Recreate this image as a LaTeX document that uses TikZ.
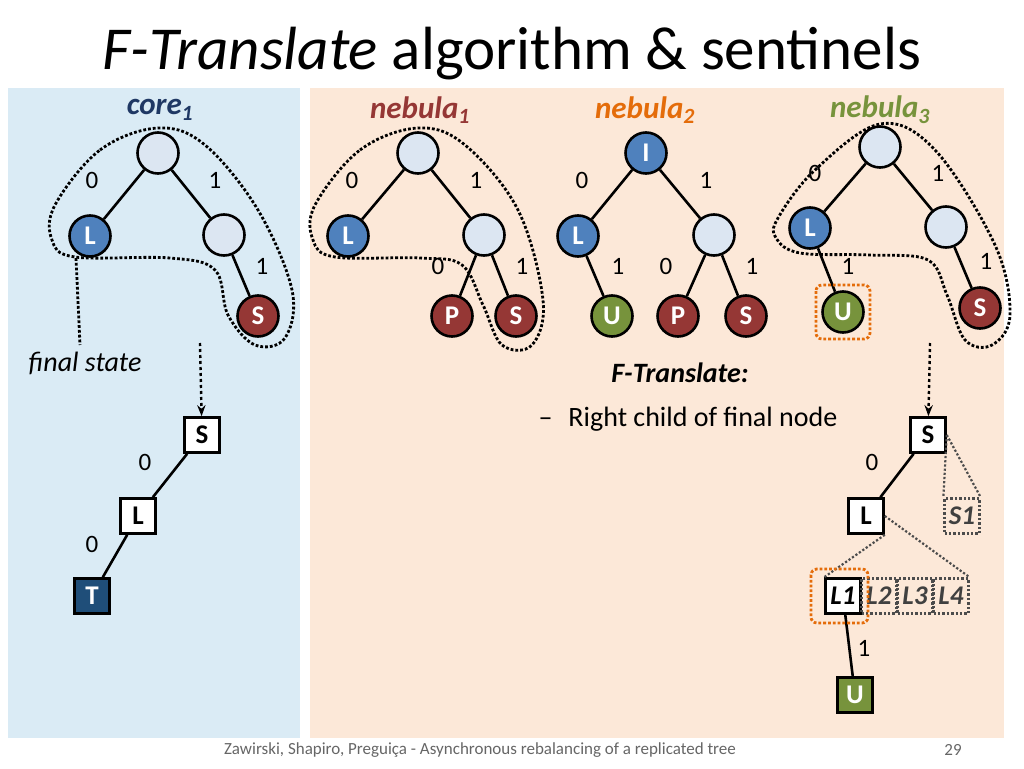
\documentclass[tikz,border=0pt]{standalone}
\usepackage{fontspec}
\setmainfont{Carlito}
\usetikzlibrary{arrows.meta,calc}
\definecolor{bpanel}{HTML}{DAEBF5}
\definecolor{opanel}{HTML}{FCE8D8}
\definecolor{nblue}{HTML}{4F81BD}
\definecolor{nred}{HTML}{953735}
\definecolor{ngreen}{HTML}{77933C}
\definecolor{nlight}{HTML}{DCE6F2}
\definecolor{tblue}{HTML}{1F3864}
\definecolor{torange}{HTML}{E46C0A}
\definecolor{tdark}{HTML}{1F4E79}
\tikzset{
 cn/.style={circle,draw=black,line width=2.6pt,minimum size=41pt,inner sep=0pt,text=white,font=\fontsize{27}{27}\selectfont\bfseries},
 cl/.style={cn,fill=nlight},
 cb/.style={cn,fill=nblue},
 cr/.style={cn,fill=nred},
 cg/.style={cn,fill=ngreen},
 sq/.style={rectangle,draw=black,line width=2.6pt,fill=white,minimum size=35pt,inner sep=0pt,font=\fontsize{27}{27}\selectfont\bfseries},
 dsq/.style={rectangle,draw=black!70,dotted,line width=2.4pt,minimum size=35pt,inner sep=0pt,text=black!75,font=\fontsize{27}{27}\selectfont\bfseries\itshape},
 ed/.style={line width=2.6pt},
 lb/.style={font=\fontsize{25}{25}\selectfont},
 loop/.style={dotted,line width=2.8pt},
 hd/.style={font=\fontsize{31}{31}\selectfont\bfseries\itshape},
}
\begin{document}
\begin{tikzpicture}[x=1pt,y=-1pt]
\useasboundingbox (0,0) rectangle (1024,768);
\fill[white] (0,0) rectangle (1024,768);
\fill[bpanel] (8,88) rectangle (300,738);
\fill[opanel] (310,88) rectangle (1004,738);
\node (title) at (512,54) {\fontsize{61}{61}\selectfont\textit{F-Translate} algorithm \& sentinels};
\node[hd,text=tblue] (h1) at (160,110) {core\textsubscript{1}};
\node[hd,text=nred] (h2) at (420,110) {nebula\textsubscript{1}};
\node[hd,text=torange] (h3) at (645,110) {nebula\textsubscript{2}};
\node[hd,text=ngreen] (h4) at (880,110) {nebula\textsubscript{3}};
% core1
\node[cl] (a0) at (158,153) {};
\node[cb] (a1) at (90,236) {L};
\node[cl] (a2) at (224,235) {};
\node[cr] (a3) at (258,316) {S};
\draw[ed] (a0)--(a1) (a0)--(a2) (a2)--(a3);
\node[lb] (la1) at (92,180) {0};
\node[lb] (la2) at (215,180) {1};
\node[lb] (la3) at (262,266) {1};
\draw[loop] plot[smooth cycle,tension=0.6] coordinates{(55,205)(100,150)(158,128)(205,145)(258,210)(292,290)(285,338)(255,345)(228,315)(215,270)(170,258)(75,257)(52,240)};
\coordinate (fs) at (80,345);
\draw[loop] (76,258)--(fs);
\node[font=\fontsize{28}{28}\selectfont\itshape] (final) at (85,363) {final state};
% nebula1
\node[cl] (b0) at (418,153) {};
\node[cb] (b1) at (348,236) {L};
\node[cl] (b2) at (484,235) {};
\node[cr] (b3) at (452,316) {P};
\node[cr] (b4) at (516,316) {S};
\draw[ed] (b0)--(b1) (b0)--(b2) (b2)--(b3) (b2)--(b4);
\node[lb] at (352,180) {0};
\node[lb] at (476,180) {1};
\node[lb] at (438,266) {0};
\node[lb] at (522,266) {1};
\draw[loop] plot[smooth cycle,tension=0.6] coordinates{(315,205)(360,150)(418,128)(465,145)(518,210)(543,300)(532,345)(502,345)(483,305)(462,265)(420,258)(335,257)(313,240)};
% nebula2
\node[cb] (c0) at (646,153) {I};
\node[cb] (c1) at (578,236) {L};
\node[cl] (c2) at (714,235) {};
\node[cg] (c3) at (612,316) {U};
\node[cr] (c4) at (678,316) {P};
\node[cr] (c5) at (746,316) {S};
\draw[ed] (c0)--(c1) (c0)--(c2) (c1)--(c3) (c2)--(c4) (c2)--(c5);
\node[lb] at (582,180) {0};
\node[lb] at (706,180) {1};
\node[lb] at (618,266) {1};
\node[lb] at (666,266) {0};
\node[lb] at (752,266) {1};
% nebula3
\node[cl] (d0) at (880,147) {};
\node[cb] (d1) at (810,228) {L};
\node[cl] (d2) at (946,227) {};
\node[cg] (d3) at (843,312) {U};
\node[cr] (d4) at (980,308) {S};
\draw[ed] (d0)--(d1) (d0)--(d2) (d1)--(d3) (d2)--(d4);
\node[lb] at (815,173) {0};
\node[lb] at (938,173) {1};
\node[lb] at (848,266) {1};
\node[lb] at (986,261) {1};
\draw[loop] plot[smooth cycle,tension=0.6] coordinates{(778,218)(815,170)(880,124)(935,150)(995,245)(1010,315)(992,345)(965,340)(947,295)(928,260)(870,255)(800,253)(776,238)};
\draw[dotted,line width=2.8pt,draw=torange,rounded corners=6pt] ($(d3)+(-27,-27)$) rectangle ($(d3)+(27,27)$);
% F-Translate text
\node[font=\fontsize{28}{28}\selectfont\bfseries\itshape] (ft) at (680,373) {F-Translate:};
\node[font=\fontsize{28}{28}\selectfont,anchor=west] (ft2) at (535,419) {–\hspace{16pt}Right child of final node};
% left final
\coordinate (la) at (200,343);
\node[sq] (s1) at (202,435) {S};
\node[sq] (s2) at (138,516) {L};
\node[sq,fill=tdark,text=white] (s3) at (92,596) {T};
\draw[dashed,line width=2.4pt,-{Stealth[length=11pt]}] (la)--(s1);
\draw[ed] (s1)--(s2) (s2)--(s3);
\node[lb] at (145,462) {0};
\node[lb] at (92,544) {0};
% right final
\coordinate (ra) at (930,343);
\node[sq] (r1) at (928,435) {S};
\node[sq] (r2) at (866,516) {L};
\node[dsq] (r3) at (962,516) {S1};
\node[sq,font=\fontsize{27}{27}\selectfont\bfseries\itshape] (q1) at (843,596) {L1};
\node[dsq] (q2) at (879,596) {L2};
\node[dsq] (q3) at (915,596) {L3};
\node[dsq] (q4) at (951,596) {L4};
\node[sq,fill=ngreen,text=white] (u) at (855,695) {U};
\draw[dashed,line width=2.4pt,-{Stealth[length=11pt]}] (ra)--(r1);
\draw[ed] (r1)--(r2) (q1)--(u);
\node[lb] at (872,462) {0};
\node[lb] at (864,648) {1};
\draw[loop,draw=black!70,line width=2.2pt] (r1.east)--(r3.north west) (r1.east)--(r3.north east);
\draw[loop,draw=black!70,line width=2.2pt] (r2.south east)--(q1.north west) (r2.east)--(q4.north east);
\draw[dotted,line width=2.8pt,draw=torange,rounded corners=6pt] ($(q1)+(-32,-27)$) rectangle ($(q1)+(25,27)$);
% footer
\node[font=\fontsize{17}{17}\selectfont,text=black!60] (ftr) at (480,750) {Zawirski, Shapiro, Preguiça - Asynchronous rebalancing of a replicated tree};
\node[font=\fontsize{17}{17}\selectfont,text=black!60] (pg) at (953,750) {29};
\end{tikzpicture}
\end{document}
